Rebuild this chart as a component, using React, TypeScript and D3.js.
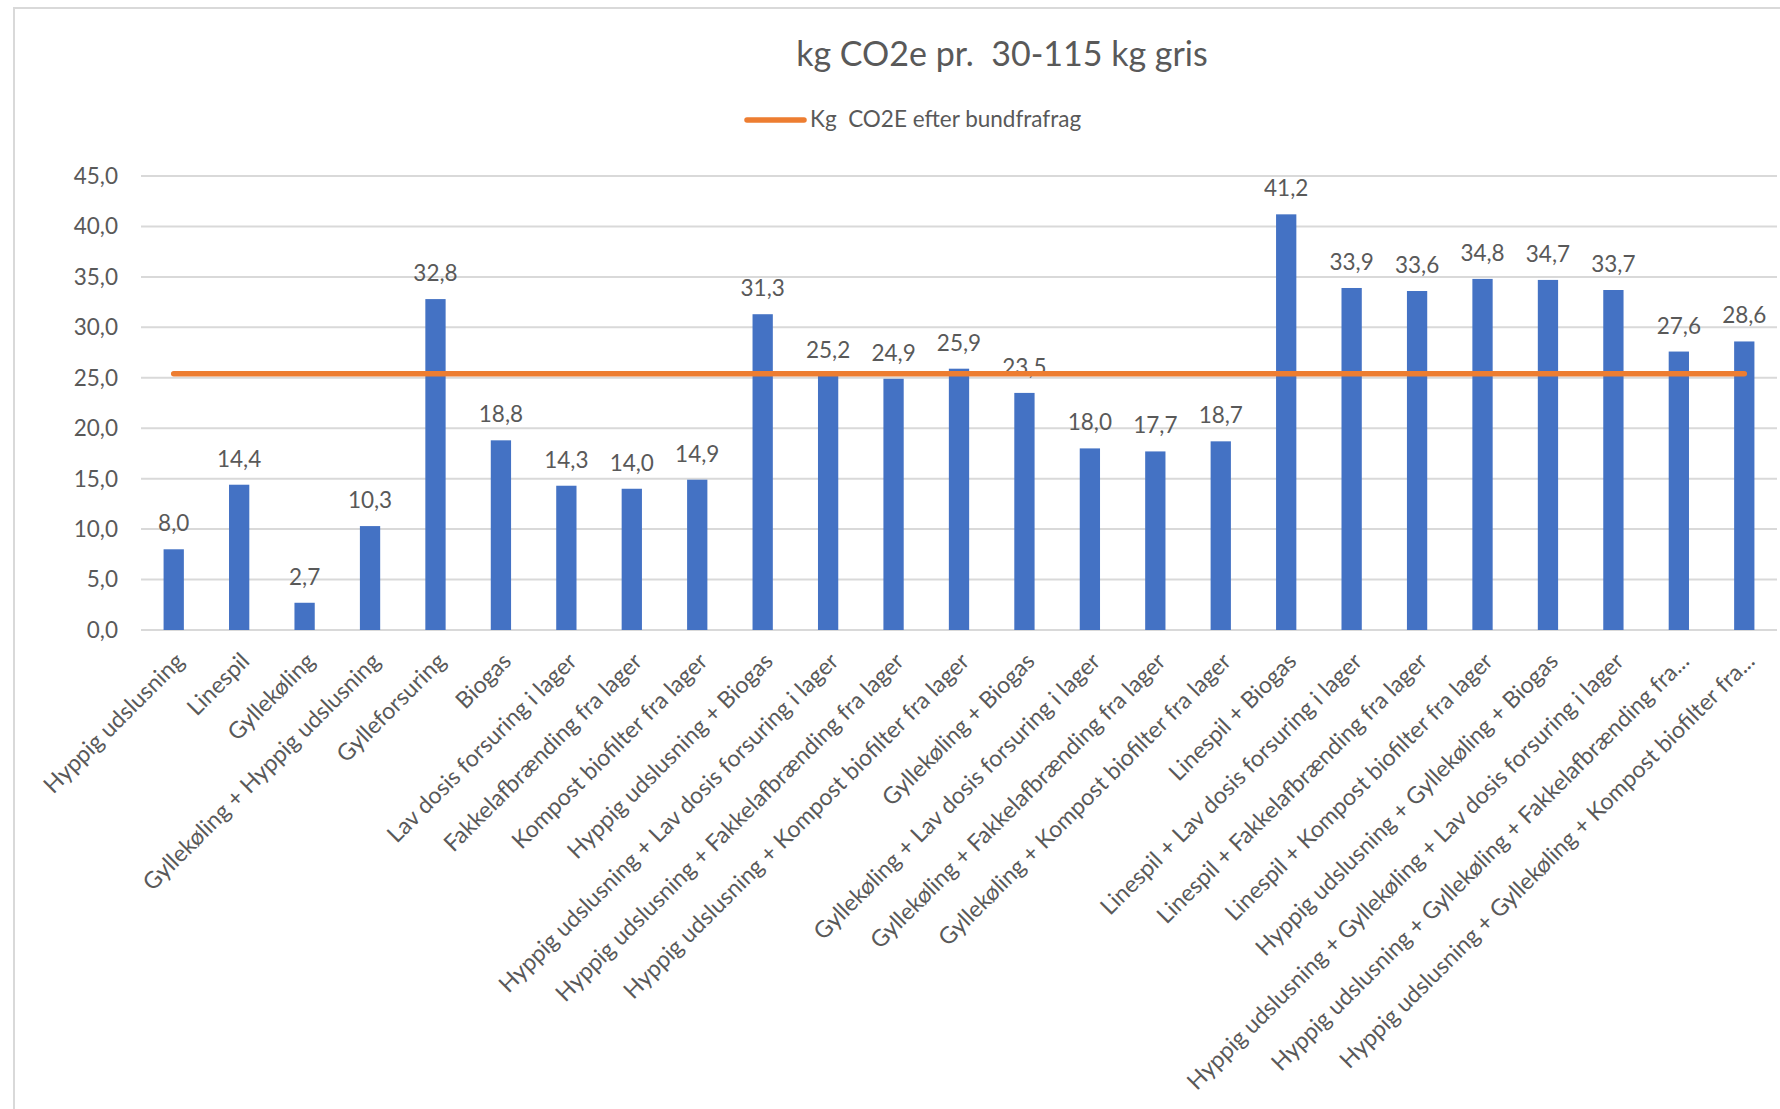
import React from 'react';
import * as d3 from 'd3';

const categories: string[] = [
  'Hyppig udslusning',
  'Linespil',
  'Gyllekøling',
  'Gyllekøling + Hyppig udslusning',
  'Gylleforsuring',
  'Biogas',
  'Lav dosis forsuring i lager',
  'Fakkelafbrænding fra lager',
  'Kompost biofilter fra lager',
  'Hyppig udslusning + Biogas',
  'Hyppig udslusning + Lav dosis forsuring i lager',
  'Hyppig udslusning + Fakkelafbrænding fra lager',
  'Hyppig udslusning + Kompost biofilter fra lager',
  'Gyllekøling + Biogas',
  'Gyllekøling + Lav dosis forsuring i lager',
  'Gyllekøling + Fakkelafbrænding fra lager',
  'Gyllekøling + Kompost biofilter fra lager',
  'Linespil + Biogas',
  'Linespil + Lav dosis forsuring i lager',
  'Linespil + Fakkelafbrænding fra lager',
  'Linespil + Kompost biofilter fra lager',
  'Hyppig udslusning + Gyllekøling + Biogas',
  'Hyppig udslusning + Gyllekøling + Lav dosis forsuring i lager',
  'Hyppig udslusning + Gyllekøling + Fakkelafbrænding fra...',
  'Hyppig udslusning + Gyllekøling + Kompost biofilter fra...',
];

const values: number[] = [
  8.0, 14.4, 2.7, 10.3, 32.8, 18.8, 14.3, 14.0, 14.9, 31.3, 25.2, 24.9, 25.9,
  23.5, 18.0, 17.7, 18.7, 41.2, 33.9, 33.6, 34.8, 34.7, 33.7, 27.6, 28.6,
];

// constant reference line ("efter bundfrafrag")
const referenceValue = 25.4;
const yTicks: number[] = [0, 5, 10, 15, 20, 25, 30, 35, 40, 45];

const title = 'kg CO2e pr.  30-115 kg gris';
const legendLabel = 'Kg  CO2E efter bundfrafrag';

const W = 1780;
const H = 1109;
const FONT = "Lato, 'Open Sans', sans-serif";
const TEXT = '#595959';
const BAR = '#4472C4';
const LINE = '#ED7D31';

const fmt = (v: number) => v.toFixed(1).replace('.', ',');

export default function App() {
  const x = d3.scaleBand<string>().domain(categories).range([141, 1777]).paddingInner(0.69).paddingOuter(0.345);
  const y = d3.scaleLinear().domain([0, 45]).range([630, 176]);
  const cx = (c: string) => (x(c) ?? 0) + x.bandwidth() / 2;

  const refLine = d3.line<string>().x(d => cx(d)).y(() => y(referenceValue));
  const ends = [categories[0], categories[categories.length - 1]];

  return (
    <svg width={W} height={H} style={{ position: 'absolute', left: 0, top: 0, background: '#fff' }} fontFamily={FONT}>
      <rect x={14} y={8} width={W} height={H} fill="#fff" stroke="#d9d9d9" strokeWidth={2} />

      <text x={1002} y={66} textAnchor="middle" fontSize={34} fill={TEXT} style={{ whiteSpace: 'pre' }}>{title}</text>

      {/* legend */}
      <line x1={747} x2={804} y1={120} y2={120} stroke={LINE} strokeWidth={5.5} strokeLinecap="round" />
      <text x={810} y={127} fontSize={22.5} fill={TEXT} style={{ whiteSpace: 'pre' }}>{legendLabel}</text>

      {/* grid + y labels */}
      {yTicks.map(t => (
        <g key={t}>
          <line x1={141} x2={1777} y1={y(t)} y2={y(t)} stroke="#d9d9d9" strokeWidth={2} />
          <text x={118} y={y(t)} dy="0.35em" textAnchor="end" fontSize={22.5} fill={TEXT}>{fmt(t)}</text>
        </g>
      ))}

      {/* bars */}
      {categories.map((c, i) => (
        <g key={c}>
          <rect x={x(c)} y={y(values[i])} width={x.bandwidth()} height={y(0) - y(values[i])} fill={BAR} />
          <text x={cx(c)} y={y(values[i]) - 18} textAnchor="middle" fontSize={22.5} fill={TEXT}>{fmt(values[i])}</text>
          <text
            transform={`translate(${cx(c) + 6},${y(0) + 27}) rotate(-45)`}
            textAnchor="end"
            dy="0.35em"
            fontSize={23.2}
            fill={TEXT}
          >
            {c}
          </text>
        </g>
      ))}

      {/* orange reference line */}
      <path d={refLine(ends) ?? ''} stroke={LINE} strokeWidth={5.5} strokeLinecap="round" fill="none" />
    </svg>
  );
}
